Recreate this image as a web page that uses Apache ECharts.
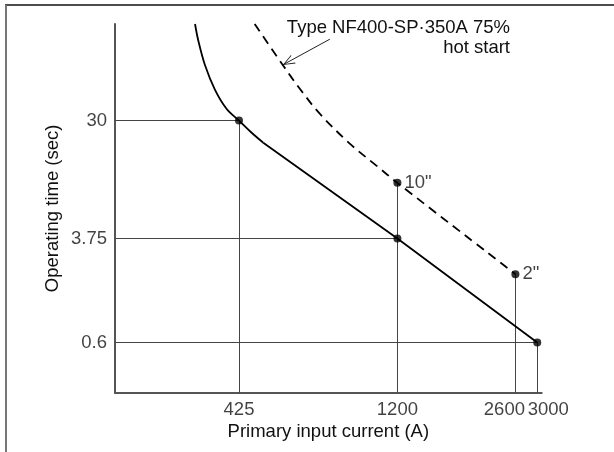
<!DOCTYPE html>
<html><head><meta charset="utf-8">
<script src="https://cdn.jsdelivr.net/npm/echarts@6/dist/echarts.min.js"></script>
<style>html,body{margin:0;padding:0;background:#fff}#c{width:614px;height:452px}</style>
</head><body><div id="c"></div>
<script>
// axis extents (log axes)
const X_MIN = 188.6, X_MAX = 3089;
const Y_MIN = 0.2473, Y_MAX = 164.6;

// tick labels
const xTicks = [425, 1200, 2600, 3000];
const xTickLabels = ['425', '1200', '2600', '3000'];
const yTicks = [30, 3.75, 0.6];
const yTickLabels = ['30', '3.75', '0.6'];

// solid operating curve: curved (inverse-time) part, then straight part
const solidCurveX = [318.6, 325.6, 340.2, 363.2, 392.1, 425, 461.8, 498.3];
const solidCurveY = [164.6, 122.4, 79.5, 51.6, 36.8, 30, 24.2, 20.3];
const solidLineX = [498.3, 1200, 3000];
const solidLineY = [20.3, 3.75, 0.6];

// dashed curve: Type NF400-SP·350A 75% hot start
const dashX = [471, 562.3, 633.9, 722.6, 879.8, 1047.6, 1200, 2600];
const dashY = [164.6, 82.1, 52.3, 33.7, 19.9, 13.5, 10, 2];

// marked points
const markX = [425, 1200, 1200, 2600, 3000];
const markY = [30, 3.75, 10, 2, 0.6];
const markLabels = ['', '', '10"', '2"', ''];

// reference lines: horizontal (y value -> end x), vertical (x value -> top y)
const hLineY = [30, 3.75, 0.6];
const hLineEndX = [425, 1200, 3000];
const vLineX = [425, 1200, 2600, 3000];
const vLineTopY = [30, 10, 2, 0.6];

// annotation arrow (tail -> head) in data units
const arrowFrom = [771, 126];
const arrowTo = [566, 80];
const annotation = 'Type NF400-SP·350A 75%\nhot start';

// style-only settings
const FONT = '"Liberation Sans", Arial, sans-serif';
const FS = 18.5;
const TXT = '#111';
const xLabelShift = [0, 0, -11, 11];
// open arrowhead whose tip sits at the centre of its box
const ARROW_HEAD = 'path://M0,0 L0.01,0 L0,0.01 Z M20,20 L19.99,20 L20,19.99 Z M10,10 L14,20 L13.2,20 L10,11.8 L6.8,20 L6,20 Z';

const chart = echarts.init(document.getElementById('c'), null, {renderer: 'canvas'});
const zip = (a, b) => a.map((v, i) => [v, b[i]]);

const refLines = [];
hLineY.forEach((y, i) => refLines.push({coords: [[X_MIN, y], [hLineEndX[i], y]]}));
vLineX.forEach((x, i) => refLines.push({coords: [[x, vLineTopY[i]], [x, Y_MIN]]}));

chart.setOption({
  animation: false,
  backgroundColor: '#fff',
  grid: {left: 115, right: 72.3, top: 24, bottom: 59.3, containLabel: false},
  xAxis: {
    type: 'log', logBase: 10, min: X_MIN, max: X_MAX,
    axisLine: {show: true, lineStyle: {color: '#555', width: 2}},
    axisTick: {show: false}, axisLabel: {show: false}, splitLine: {show: false},
    name: 'Primary input current (A)', nameLocation: 'middle', nameGap: 30,
    nameTextStyle: {fontFamily: FONT, fontSize: FS, color: TXT}
  },
  yAxis: {
    type: 'log', logBase: 10, min: Y_MIN, max: Y_MAX,
    axisLine: {show: true, lineStyle: {color: '#555', width: 2}},
    axisTick: {show: false}, axisLabel: {show: false}, splitLine: {show: false},
    name: 'Operating time (sec)', nameLocation: 'middle', nameGap: 53,
    nameTextStyle: {fontFamily: FONT, fontSize: FS, color: TXT}
  },
  graphic: [
    {type: 'line', shape: {x1: 5, y1: 5, x2: 614, y2: 5}, style: {stroke: '#111', lineWidth: 1.5}, silent: true},
    {type: 'line', shape: {x1: 6, y1: 5, x2: 6, y2: 452}, style: {stroke: '#777', lineWidth: 2}, silent: true},
    {type: 'text', x: 510, y: 18, silent: true,
     style: {text: annotation, align: 'right', verticalAlign: 'top', font: FS + 'px ' + FONT, fill: TXT, lineHeight: 20}}
  ],
  series: [
    {
      type: 'lines', coordinateSystem: 'cartesian2d', polyline: false, silent: true, z: 1,
      lineStyle: {color: '#444', width: 1, opacity: 1},
      data: refLines
    },
    {
      type: 'line', data: zip(solidCurveX, solidCurveY), showSymbol: false, smooth: 0.35, silent: true, z: 3,
      lineStyle: {color: '#000', width: 1.8}
    },
    {
      type: 'line', data: zip(solidLineX, solidLineY), showSymbol: false, smooth: false, silent: true, z: 3,
      lineStyle: {color: '#000', width: 1.8}
    },
    {
      type: 'line', data: zip(dashX, dashY), showSymbol: false, smooth: 0.35, silent: true, z: 3,
      lineStyle: {color: '#000', width: 1.8, type: [9, 6]}
    },
    {
      type: 'lines', coordinateSystem: 'cartesian2d', silent: true, z: 3,
      symbol: ['none', ARROW_HEAD], symbolSize: 24,
      lineStyle: {color: '#222', width: 1, opacity: 1},
      data: [{coords: [arrowFrom, arrowTo]}]
    },
    {
      type: 'scatter', data: markX.map((x, i) => ({value: [x, markY[i]], label: {show: !!markLabels[i], formatter: markLabels[i]}})),
      symbolSize: 8, itemStyle: {color: '#000'}, silent: true, z: 5, clip: false,
      label: {position: 'right', distance: 3, fontFamily: FONT, fontSize: FS, color: TXT}
    },
    {
      type: 'scatter', data: xTicks.map((x, i) => ({value: [x, Y_MIN], label: {formatter: xTickLabels[i], offset: [xLabelShift[i], 0]}})),
      symbolSize: 0, silent: true, clip: false,
      label: {show: true, position: 'bottom', distance: 8, fontFamily: FONT, fontSize: FS, color: TXT}
    },
    {
      type: 'scatter', data: yTicks.map((y, i) => ({value: [X_MIN, y], label: {formatter: yTickLabels[i]}})),
      symbolSize: 0, silent: true, clip: false,
      label: {show: true, position: 'left', distance: 8, fontFamily: FONT, fontSize: FS, color: TXT}
    }
  ]
});
</script></body></html>
